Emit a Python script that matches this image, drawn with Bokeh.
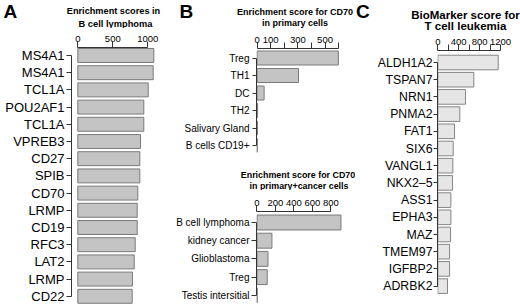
from bokeh.plotting import figure
from bokeh.models import Range1d, LinearAxis, FixedTicker
from bokeh.core.properties import value
from bokeh.layouts import row, column
from bokeh.embed import file_html
from bokeh.resources import INLINE

FONT = "Liberation Sans"

# ---- data ----
a_title = ["Enrichment scores in", "B cell lymphoma"]
a_genes = ["MS4A1", "MS4A1", "TCL1A", "POU2AF1", "TCL1A", "VPREB3", "CD27", "SPIB",
           "CD70", "LRMP", "CD19", "RFC3", "LAT2", "LRMP", "CD22"]
a_scores = [1086, 1077, 1006, 943, 943, 896, 886, 886, 857, 849, 849, 820, 806, 781, 777]
a_ticks = [0, 500, 1000]
a_tick_labels = ["0", "500", "1000"]

b1_title = ["Enrichment score for CD70", "in primary cells"]
b1_cells = ["Treg", "TH1", "DC", "TH2", "Salivary Gland", "B cells CD19+"]
b1_scores = [598, 305, 52, 4, 2, 1]
b1_ticks = [0, 100, 200, 300, 400, 500, 600]
b1_tick_labels = ["0", "100", "", "300", "", "500", ""]

b2_title = ["Enrichment score for CD70", "in primary+cancer cells"]
b2_cells = ["B cell lymphoma", "kidney cancer", "Glioblastoma", "Treg", "Testis intersitial"]
b2_scores = [908, 162, 119, 111, 2]
b2_ticks = [0, 200, 400, 600, 800]
b2_tick_labels = ["0", "200", "400", "600", "800"]

c_title = ["BioMarker score for", "T cell leukemia"]
c_genes = ["ALDH1A2", "TSPAN7", "NRN1", "PNMA2", "FAT1", "SIX6", "VANGL1", "NKX2\u20135",
           "ASS1", "EPHA3", "MAZ", "TMEM97", "IGFBP2", "ADRBK2"]
c_scores = [1157, 690, 530, 422, 320, 295, 288, 282, 250, 250, 244, 225, 225, 186]
c_ticks = [0, 200, 400, 600, 800, 1000, 1200]
c_tick_labels = ["0", "", "400", "", "800", "", "1200"]

AX = "#333333"


def panel(cats, vals, ticks, tick_labels, w, h, borders, xr, yr, bar_h, fill, line,
          lab_size, tick_size, ytick_out, ystandoff):
    bl, br, bt, bb = borders
    p = figure(width=w, height=h, x_range=Range1d(*xr), y_range=Range1d(yr[1], yr[0]),
               title=None, output_backend="svg", toolbar_location=None,
               x_axis_location=None, y_axis_location=None, min_border=0,
               min_border_left=bl, min_border_right=br, min_border_top=bt, min_border_bottom=bb)
    p.frame_align = False
    p.grid.visible = False
    p.outline_line_color = None
    p.background_fill_color = "white"
    p.border_fill_color = "white"
    idx = list(range(len(cats)))
    p.hbar(y=idx, left=0, right=vals, height=bar_h, fill_color=fill, line_color=line, line_width=1)

    xa = LinearAxis(ticker=FixedTicker(ticks=ticks),
                    major_label_overrides={t: l for t, l in zip(ticks, tick_labels)})
    xa.bounds = (ticks[0], ticks[-1])
    xa.minor_tick_line_color = None
    xa.major_tick_in = 0
    xa.major_tick_out = 6
    xa.major_label_standoff = 0
    xa.axis_line_color = AX
    xa.major_tick_line_color = AX
    xa.major_label_text_font = FONT
    xa.major_label_text_font_size = tick_size
    xa.major_label_text_color = "black"
    p.add_layout(xa, "above")

    ya = LinearAxis(ticker=FixedTicker(ticks=idx),
                    major_label_overrides={i: c for i, c in zip(idx, cats)})
    ya.bounds = (0, len(cats) - 1)
    ya.minor_tick_line_color = None
    ya.major_tick_in = 0
    ya.major_tick_out = ytick_out
    ya.major_label_standoff = ystandoff
    ya.axis_line_color = AX
    ya.major_tick_line_color = AX
    ya.major_label_text_font = FONT
    ya.major_label_text_font_size = lab_size
    ya.major_label_text_color = "black"
    p.add_layout(ya, "left")
    return p


def header(w, h, x0, y0):
    # data coordinates of a header equal page pixels
    p = figure(width=w, height=h, x_range=Range1d(x0, x0 + w), y_range=Range1d(y0 + h, y0),
               title=None, output_backend="svg", toolbar_location=None,
               x_axis_location=None, y_axis_location=None, min_border=0,
               min_border_left=0, min_border_right=0, min_border_top=0, min_border_bottom=0)
    p.frame_align = False
    p.grid.visible = False
    p.outline_line_color = None
    p.background_fill_color = "white"
    p.border_fill_color = "white"
    return p


def htext(p, x, y, text, size, align="center"):
    p.text(x=[x], y=[y], text=[text], text_font=value(FONT), text_font_size=value(size),
           text_font_style="bold", text_align=align, text_baseline="middle", text_color="black")


# ---- Panel A : page x 0..172 ----
ha = header(172, 28, 0, 0)
htext(ha, 3, 10.5, "A", "19px", "left")
htext(ha, 113, 10.5, a_title[0], "9.2px")
htext(ha, 115, 23, a_title[1], "9.3px")
pa = panel(a_genes, a_scores, a_ticks, a_tick_labels, 172, 278, (71, 17, 19, 1),
           (-90, 1110), (-0.465, 14.535), 0.81, "#c4c4c4", "#7a7a7a", "13px", "9.5px", 5, 2)

# ---- Panel B : page x 172..355 ----
hb1 = header(183, 28, 172, 0)
htext(hb1, 179, 10.5, "B", "19px", "left")
htext(hb1, 294.5, 11, b1_title[0], "9px")
htext(hb1, 294.5, 22, b1_title[1], "9px")
pb1 = panel(b1_cells, b1_scores, b1_ticks, b1_tick_labels, 183, 132, (84, 14, 20, 8),
            (-4, 621), (-0.543, 5.4), 0.8, "#c4c4c4", "#7a7a7a", "10px", "9.5px", 4, 3)
hb2 = header(183, 30, 172, 160)
htext(hb2, 297.5, 174.5, b2_title[0], "8.9px")
htext(hb2, 298.5, 185, b2_title[1], "8.9px")
pb2 = panel(b2_cells, b2_scores, b2_ticks, b2_tick_labels, 183, 116, (84, 12, 21, 1),
            (-5, 935.5), (-0.604, 4.56), 0.82, "#c4c4c4", "#7a7a7a", "10px", "9.5px", 5, 2)

# ---- Panel C : page x 355..520 ----
hc = header(165, 31, 355, 0)
htext(hc, 355.5, 10.5, "C", "19px", "left")
htext(hc, 465, 14, c_title[0], "11.5px")
htext(hc, 465, 25.5, c_title[1], "11.5px")
pc = panel(c_genes, c_scores, c_ticks, c_tick_labels, 165, 275, (82, 15, 19, 1),
           (-6, 1296.7), (-0.698, 14.128), 0.85, "#e6e6e6", "#858585", "12.3px", "9.5px", 4, 1)

root = row(column(ha, pa), column(hb1, pb1, hb2, pb2), column(hc, pc))

open("out.html", "w").write(file_html(root, INLINE))
